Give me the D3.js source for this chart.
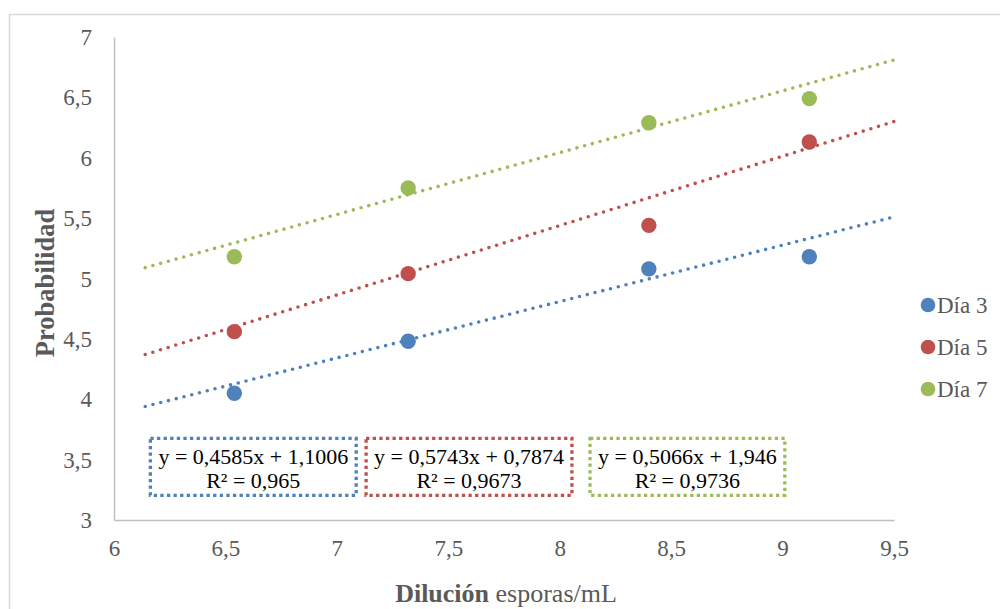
<!DOCTYPE html>
<html>
<head>
<meta charset="utf-8">
<script src="https://cdn.jsdelivr.net/npm/d3@7"></script>
<style>
	body { margin: 0; background: #fff; }
	svg { display: block; font-family: "Liberation Serif", "Times New Roman", serif; }
</style>
</head>
<body>
<div id="vis"></div>
<script>

// values
var dilution = [6.54, 7.32, 8.40, 9.12];
var dia3 = [4.05, 4.48, 5.08, 5.18];
var dia5 = [4.56, 5.04, 5.44, 6.13];
var dia7 = [5.18, 5.75, 6.29, 6.49];
var seriesNames = ["Día 3", "Día 5", "Día 7"];

// dotted trend lines, start/end as drawn
var trendX = [6.14, 9.5];
var trend3 = [3.94, 5.51];
var trend5 = [4.37, 6.30];
var trend7 = [5.09, 6.81];

var equations = ["y = 0,4585x + 1,1006", "y = 0,5743x + 0,7874", "y = 0,5066x + 1,946"];
var rSquared = ["R² = 0,965", "R² = 0,9673", "R² = 0,9736"];

var xTicks = [6, 6.5, 7, 7.5, 8, 8.5, 9, 9.5];
var xTickLabels = ["6", "6,5", "7", "7,5", "8", "8,5", "9", "9,5"];
var yTicks = [3, 3.5, 4, 4.5, 5, 5.5, 6, 6.5, 7];
var yTickLabels = ["3", "3,5", "4", "4,5", "5", "5,5", "6", "6,5", "7"];

var colours = ["#4f81bd", "#c0504d", "#9bbb59"];

function drawChart () {
	var w = 1000, h = 609;
	var left = 114, right = 894, top = 37, bottom = 520;
	var textGrey = "#595959";

	var svg = d3.select("#vis").append("svg")
	.attr("width", w)
	.attr("height", h);

	// outer chart border runs off the right and bottom of the picture
	svg.append("rect")
	.attr("x", 9.5)
	.attr("y", 14.5)
	.attr("width", w + 20)
	.attr("height", h + 20)
	.attr("fill", "none")
	.attr("stroke", "#d9d9d9")
	.attr("stroke-width", 1.5);

	var x = d3.scaleLinear().domain([6, 9.5]).range([left, right]);
	var y = d3.scaleLinear().domain([3, 7]).range([bottom, top]);

	var xAxis = d3.axisBottom(x)
	.tickValues(xTicks)
	.tickSize(0)
	.tickPadding(14)
	.tickFormat(function (d, i) { return xTickLabels[i]; });

	var yAxis = d3.axisLeft(y)
	.tickValues(yTicks)
	.tickSize(0)
	.tickPadding(22)
	.tickFormat(function (d, i) { return yTickLabels[i]; });

	var gx = svg.append("g")
	.attr("transform", "translate(0," + bottom + ")")
	.call(xAxis);

	var gy = svg.append("g")
	.attr("transform", "translate(" + left + ",0)")
	.call(yAxis);

	[gx, gy].forEach(function (g) {
		g.attr("font-family", null);
		g.select(".domain").attr("stroke", "#bfbfbf").attr("stroke-width", 1.5);
		g.selectAll("text")
		.attr("fill", textGrey)
		.attr("font-size", 23);
	});
	gy.selectAll("text").attr("dy", "0.33em");
	gx.selectAll("text").attr("dy", "0.95em");

	// axis titles
	var xt = svg.append("text")
	.attr("x", 506)
	.attr("y", 602)
	.attr("text-anchor", "middle")
	.attr("font-size", 26)
	.attr("fill", textGrey);
	xt.append("tspan").attr("font-weight", "bold").text("Dilución");
	xt.append("tspan").text(" esporas/mL");

	svg.append("text")
	.attr("transform", "translate(54,283) rotate(-90)")
	.attr("text-anchor", "middle")
	.attr("font-size", 26.5)
	.attr("font-weight", "bold")
	.attr("fill", textGrey)
	.text("Probabilidad");

	var series = [dia3, dia5, dia7];
	var trends = [trend3, trend5, trend7];

	var line = d3.line()
	.x(function (d) { return x(d[0]); })
	.y(function (d) { return y(d[1]); });

	svg.append("g").selectAll("path")
	.data(trends)
	.enter()
	.append("path")
	.attr("d", function (d) { return line(d3.zip(trendX, d)); })
	.attr("fill", "none")
	.attr("stroke", function (d, i) { return colours[i]; })
	.attr("stroke-width", 3.6)
	.attr("stroke-linecap", "round")
	.attr("stroke-dasharray", "0,8");

	var groups = svg.append("g").selectAll("g")
	.data(series)
	.enter()
	.append("g")
	.attr("fill", function (d, i) { return colours[i]; });

	groups.selectAll("circle")
	.data(function (d) { return d3.zip(dilution, d); })
	.enter()
	.append("circle")
	.attr("cx", function (d) { return x(d[0]); })
	.attr("cy", function (d) { return y(d[1]); })
	.attr("r", 7.7);

	// trendline labels with dotted borders
	var labelAt = [6.625, 7.593, 8.573];
	var labels = svg.append("g").selectAll("g")
	.data(equations)
	.enter()
	.append("g")
	.attr("transform", function (d, i) {
		return "translate(" + x(labelAt[i]) + "," + y(3.44) + ")";
	});

	labels.append("text")
	.attr("y", -3)
	.attr("text-anchor", "middle")
	.attr("font-size", 22)
	.attr("fill", "#000")
	.text(function (d) { return d; });

	labels.append("text")
	.attr("y", 21)
	.attr("text-anchor", "middle")
	.attr("font-size", 22)
	.attr("fill", "#000")
	.text(function (d, i) { return rSquared[i]; });

	labels.each(function (d, i) {
		var g = d3.select(this);
		var bw = g.select("text").node().getComputedTextLength() + 16;
		g.insert("rect", "text")
		.attr("x", -bw / 2)
		.attr("y", -28.5)
		.attr("width", bw)
		.attr("height", 57)
		.attr("fill", "#fff")
		.attr("stroke", colours[i])
		.attr("stroke-width", 3.3)
		.attr("stroke-dasharray", "3.3,3.3");
	});

	// legend
	var key = svg.append("g").selectAll("g")
	.data(seriesNames)
	.enter()
	.append("g")
	.attr("transform", function (d, i) {
		return "translate(928," + (305 + i * 42) + ")";
	});

	key.append("circle")
	.attr("r", 7.3)
	.attr("fill", function (d, i) { return colours[i]; });

	key.append("text")
	.attr("x", 9)
	.attr("y", 8.3)
	.attr("font-size", 23)
	.attr("fill", textGrey)
	.text(function (d) { return d; });
}

drawChart();
</script>
</body>
</html>
